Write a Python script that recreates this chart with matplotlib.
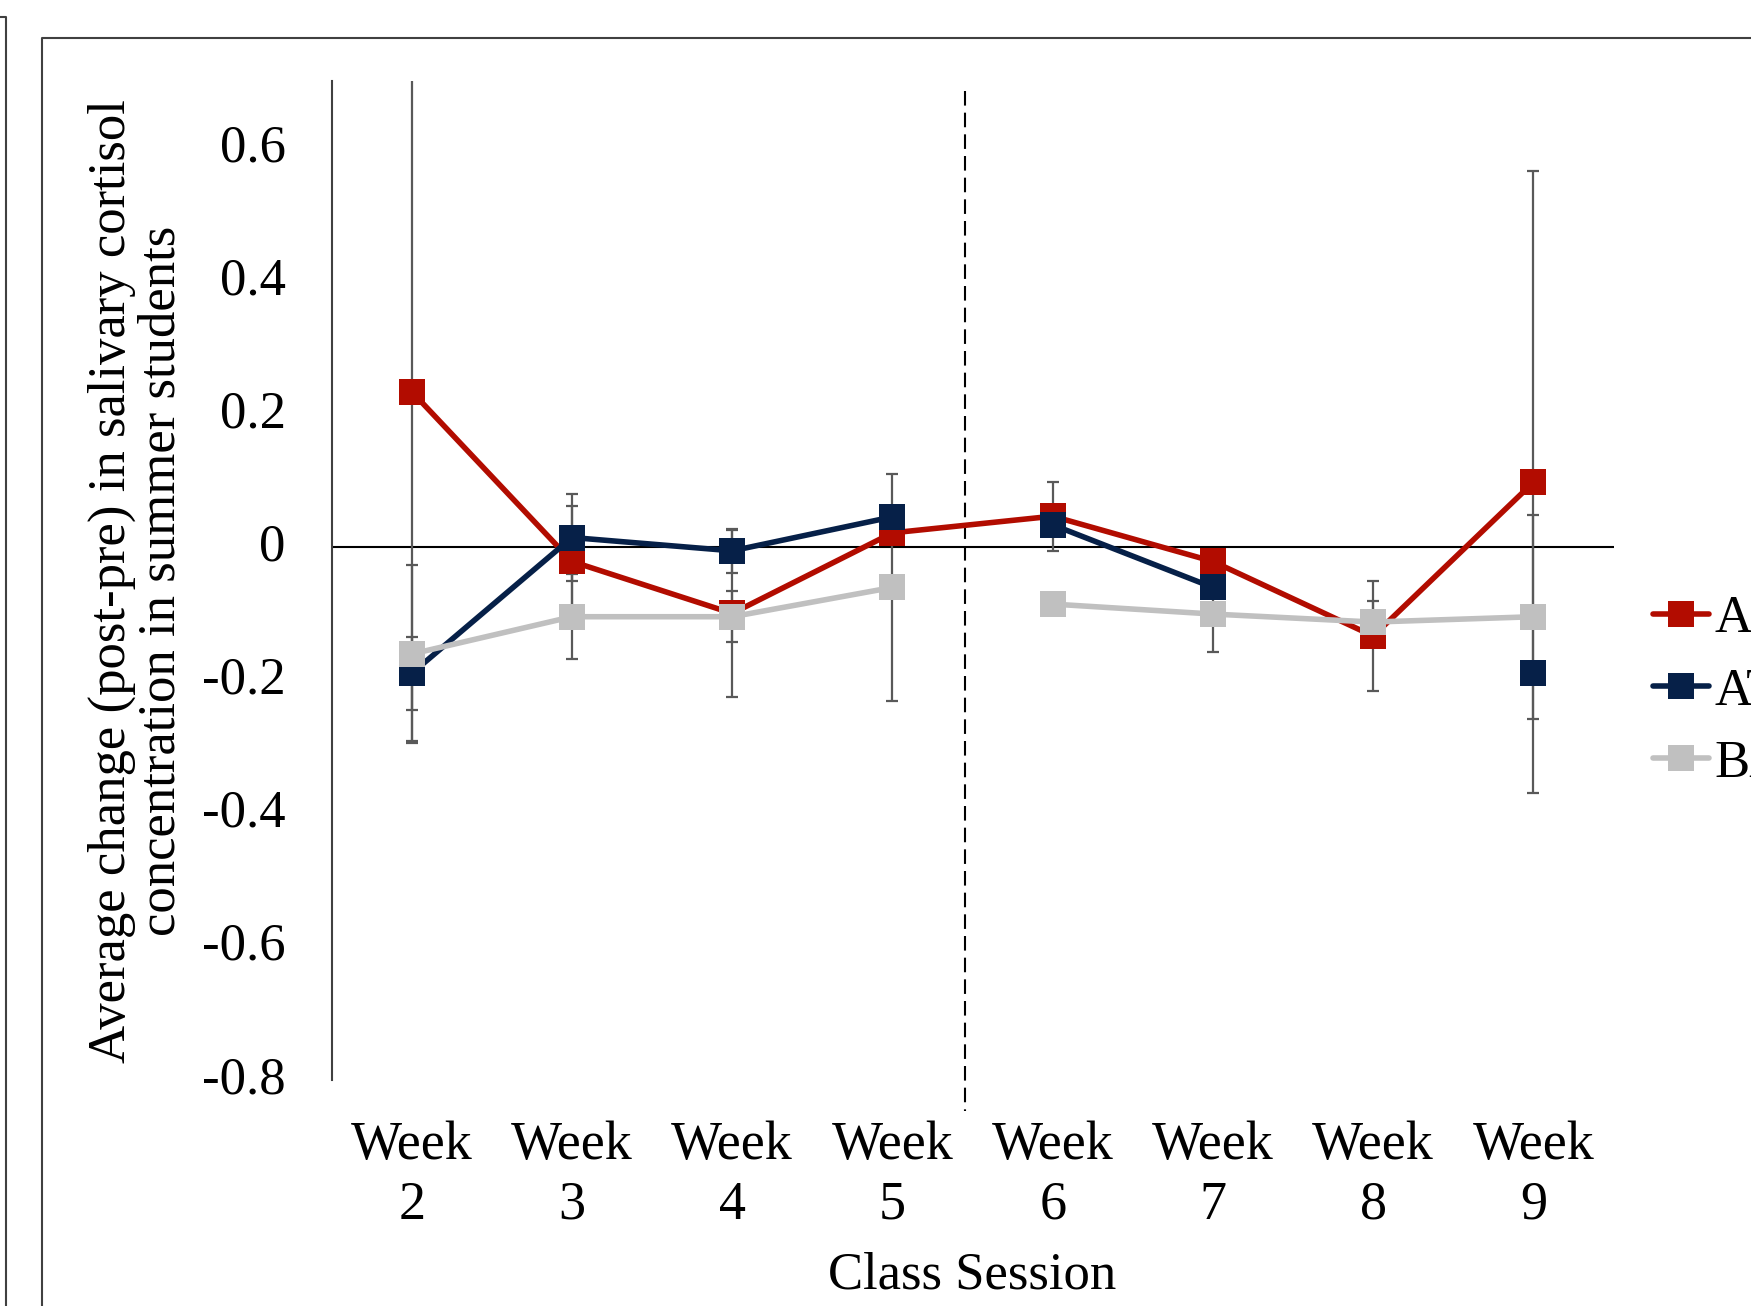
import numpy as np
import matplotlib.pyplot as plt
from matplotlib.lines import Line2D

plt.rcParams['font.family'] = 'Liberation Serif'
plt.rcParams['axes.unicode_minus'] = False

weeks = ['Week\n2', 'Week\n3', 'Week\n4', 'Week\n5', 'Week\n6', 'Week\n7', 'Week\n8', 'Week\n9']

# mean change (post - pre) and error per class session
red = [0.234, -0.021, -0.099, 0.022, 0.047, -0.021, -0.133, 0.098]
red_err = [0.525, 0.084, 0.125, np.nan, 0.052, np.nan, 0.082, 0.467]

navy = [-0.189, 0.015, -0.005, 0.046, 0.034, -0.060, np.nan, -0.188]
navy_err = [0.055, 0.066, 0.033, np.nan, np.nan, np.nan, np.nan, np.nan]

grey = [-0.160, -0.104, -0.104, -0.060, -0.085, -0.100, -0.112, -0.104]
grey_err = [0.133, 0.064, 0.038, 0.171, np.nan, 0.057, 0.031, 0.153]

labels = ['A', 'AT', 'BA']
yticks = [0.6, 0.4, 0.2, 0, -0.2, -0.4, -0.6, -0.8]
ytick_labels = ['0.6', '0.4', '0.2', '0', '-0.2', '-0.4', '-0.6', '-0.8']

c_red = '#B20C00'
c_navy = '#062048'
c_grey = '#C0C0C0'
c_err = '#595959'

fig = plt.figure(figsize=(17.51, 13.06), dpi=100)
ax = fig.add_axes([0.1894, 0.1730, 0.7321, 0.7646])
x = np.arange(len(weeks))

# error bars first so markers sit on top
for vals, err in [(red, red_err), (navy, navy_err), (grey, grey_err)]:
    ax.errorbar(x, vals, yerr=err, fmt='none', ecolor=c_err, elinewidth=1.6,
                capsize=4, capthick=1.6, zorder=2)

style = dict(marker='s', markersize=18.5, markeredgewidth=0, linewidth=4,
             solid_capstyle='round')
ax.plot(x, red, color=c_red, label=labels[0], zorder=3, **style)
# navy and grey are split between week 5 and week 6
ax.plot(x[:4], navy[:4], color=c_navy, label=labels[1], zorder=4, **style)
ax.plot(x[4:], navy[4:], color=c_navy, zorder=4, **style)
ax.plot(x[:4], grey[:4], color=c_grey, label=labels[2], zorder=5, **style)
ax.plot(x[4:], grey[4:], color=c_grey, zorder=5, **style)

ax.axhline(0, color='black', linewidth=1.5, zorder=1)
ax.plot([3.45, 3.45], [0.685, -0.847], color='black', linewidth=1.5,
        dashes=(7, 3.4), clip_on=False, zorder=1)

ax.set_xlim(-0.5, 7.5)
ax.set_ylim(-0.8, 0.7)
ax.set_xticks(x)
ax.set_xticklabels(weeks, fontsize=39, linespacing=1.25)
ax.set_yticks(yticks)
ax.set_yticklabels(ytick_labels, fontsize=38, va='center')
ax.tick_params(axis='x', length=0, pad=29)
ax.tick_params(axis='y', length=0, pad=33)

for s in ['top', 'right', 'bottom']:
    ax.spines[s].set_visible(False)
ax.spines['left'].set_color('#404040')
ax.spines['left'].set_linewidth(1.5)

ax.set_xlabel('Class Session', fontsize=38, labelpad=15)
ax.set_ylabel('Average change (post-pre) in salivary cortisol\nconcentration in summer students',
              fontsize=38, labelpad=12, linespacing=1.05)

fig.legend(loc='center left', bbox_to_anchor=(0.944, 0.4705), frameon=False,
           fontsize=38, handlelength=1.06, handletextpad=0.1, labelspacing=0.46,
           borderpad=0, borderaxespad=0)

# chart borders
fig.add_artist(Line2D([0.024, 0.024, 1.0], [0.0, 0.9709, 0.9709],
                      transform=fig.transFigure, color='#404040', linewidth=1.5))
fig.add_artist(Line2D([0.0, 0.0033, 0.0033], [0.987, 0.987, 0.0],
                      transform=fig.transFigure, color='#404040', linewidth=1.5))

fig.savefig('out.png', dpi=100)
